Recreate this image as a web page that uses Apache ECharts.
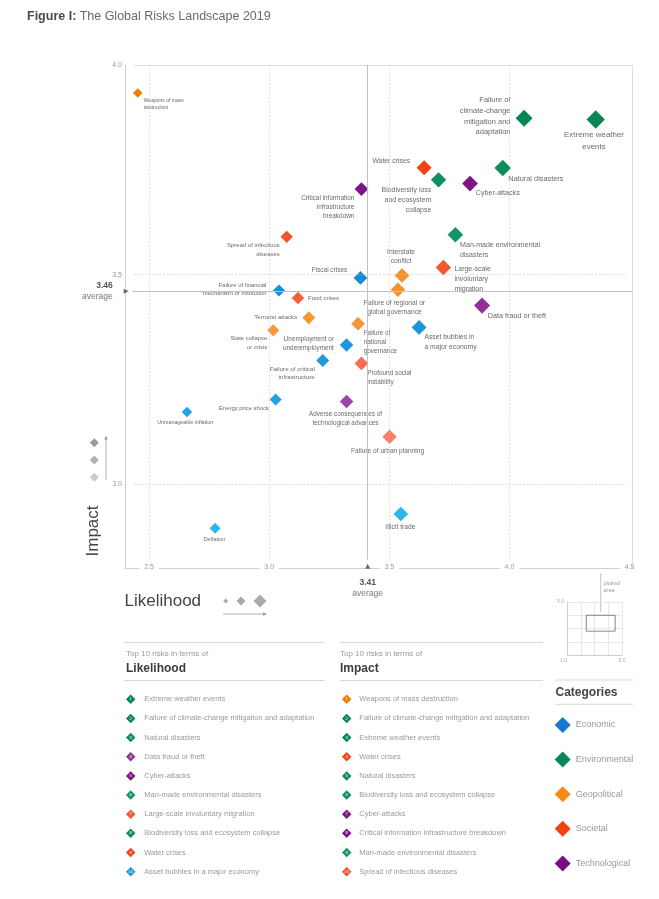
<!DOCTYPE html>
<html><head><meta charset="utf-8">
<script src="https://cdn.jsdelivr.net/npm/echarts@6/dist/echarts.min.js"></script>
<style>html,body{margin:0;padding:0;background:#fff}#c{width:659px;height:899px}</style>
</head><body><div id="c"></div>
<script>
// ---------------- DATA ----------------
const risks = [
  'Weapons of mass destruction','Failure of climate-change mitigation and adaptation','Extreme weather events',
  'Water crises','Biodiversity loss and ecosystem collapse','Natural disasters','Cyber-attacks',
  'Critical information infrastructure breakdown','Man-made environmental disasters','Spread of infectious diseases',
  'Interstate conflict','Large-scale involuntary migration','Fiscal crises','Failure of regional or global governance',
  'Failure of financial mechanism or institution','Food crises','Data fraud or theft','Terrorist attacks',
  'State collapse or crisis','Failure of national governance','Unemployment or underemployment',
  'Asset bubbles in a major economy','Failure of critical infrastructure','Profound social instability',
  'Energy price shock','Adverse consequences of technological advances','Unmanageable inflation',
  'Failure of urban planning','Illicit trade','Deflation'
];
const categoryOf = [
  'Geopolitical','Environmental','Environmental','Societal','Environmental','Environmental','Technological',
  'Technological','Environmental','Societal','Geopolitical','Societal','Economic','Geopolitical',
  'Economic','Societal','Technological','Geopolitical','Geopolitical','Geopolitical','Economic',
  'Economic','Economic','Societal','Economic','Technological','Economic','Societal','Economic','Economic'
];
const likelihood = [2.453,4.061,4.359,3.645,3.705,3.972,3.836,3.384,3.775,3.073,3.553,3.725,3.380,3.536,
  3.041,3.120,3.886,3.165,3.017,3.370,3.322,3.624,3.223,3.384,3.027,3.322,2.658,3.501,3.548,2.775];
const impact = [3.933,3.873,3.870,3.755,3.726,3.754,3.717,3.704,3.595,3.590,3.498,3.517,3.492,3.464,
  3.462,3.444,3.426,3.397,3.367,3.383,3.332,3.374,3.295,3.288,3.202,3.197,3.172,3.113,2.929,2.895];
const chartLabels = [
  'Weapons of mass\ndestruction','Failure of\nclimate-change\nmitigation and\nadaptation','Extreme weather\nevents',
  'Water crises','Biodiversity loss\nand ecosystem\ncollapse','Natural disasters','Cyber-attacks',
  'Critical information\ninfrastructure\nbreakdown','Man-made environmental\ndisasters','Spread of infectious\ndiseases',
  'Interstate\nconflict','Large-scale\ninvoluntary\nmigration','Fiscal crises','Failure of regional or\nglobal governance',
  'Failure of financial\nmechanism or institution','Food crises','Data fraud or theft','Terrorist attacks',
  'State collapse\nor crisis','Failure of\nnational\ngovernance','Unemployment or\nunderemployment',
  'Asset bubbles in\na major economy','Failure of critical\ninfrastructure','Profound social\ninstability',
  'Energy price shock','Adverse consequences of\ntechnological advances','Unmanageable inflation',
  'Failure of urban planning','Illicit trade','Deflation'
];
const categories = ['Economic','Environmental','Geopolitical','Societal','Technological'];
const xTicks = [2.5, 3.0, 3.5, 4.0, 4.5];
const yTicks = [3.0, 3.5, 4.0];
const xRange = [2.4, 4.51];
const yRange = [2.8, 4.0];
const avgLikelihood = 3.41;
const avgImpact = 3.46;
const insetRange = [1, 5];

// ---------------- STYLE ----------------
const catShades = { // [low impact shade, high impact shade]
  Economic: ['#2cb8ee', '#0a6fc4'],
  Environmental: ['#38bc8c', '#068454'],
  Geopolitical: ['#f8b06c', '#f07c00'],
  Societal: ['#fb9086', '#f03600'],
  Technological: ['#ac62b4', '#74047c']
};
const catLegend = {Economic:'#1478cc', Environmental:'#078857', Geopolitical:'#f5891a', Societal:'#f2420e', Technological:'#7a0c82'};
// label offsets from diamond centre [dx, dy, align]
const labelLayout = [
  [6,10.9,'left'],[-13.6,-2,'right'],[-1.7,21.3,'center'],[-14,-6.3,'right'],[-7.3,20,'right'],
  [5.6,11,'left'],[5.7,9,'left'],[-7,18.4,'right'],[4.7,15.3,'left'],[-7,13.2,'right'],
  [-1,-18.7,'center'],[11,12,'left'],[-13.3,-7.3,'right'],[-3.5,18,'center'],[-12.6,-1.3,'right'],
  [10,0,'left'],[5.7,10,'left'],[-11.6,-0.6,'right'],[-6,12.7,'right'],[5.6,18.4,'left'],
  [-12.7,-1.5,'right'],[5.3,14.6,'left'],[-8,12.8,'right'],[5.7,14,'left'],[-6.7,9,'right'],
  [-1,17.2,'center'],[-1.8,10.6,'center'],[-2,14,'center'],[-0.5,13.3,'center'],[-0.6,11.7,'center']
];
const FONT = '"Liberation Sans", Arial, sans-serif';

function hex2rgb(h){h=h.replace('#','');return [0,2,4].map(i=>parseInt(h.substr(i,2),16));}
function shade(cat, imp){
  const [a,b] = catShades[cat].map(hex2rgb);
  let t = (imp - 2.9) / 1.0; t = Math.max(0, Math.min(1, t));
  const c = a.map((v,i)=>Math.round(v + (b[i]-v)*t));
  return 'rgb(' + c.join(',') + ')';
}
const sizeOf = L => 9.5 + (L - 2.45) * 4.6;
const fontOf = L => 5.0 + (L - 2.45) * 1.55;

// ---------------- SERIES ----------------
const series = [];
const dotted = {type:[1.2,2.4], color:'#c4c4c4', width:0.8};
const frame = {type:'solid', color:'#dcdcdc', width:1};
const avgLine = {type:'solid', color:'#c2c2c2', width:1};
const lineData = [];
xTicks.slice(0,4).forEach(v => lineData.push([{coord:[v, 2.82], lineStyle:dotted},{coord:[v, yRange[1]]}]));
yTicks.slice(0,2).forEach(v => lineData.push([{coord:[2.44, v], lineStyle:dotted},{coord:[4.48, v]}]));
lineData.push([{coord:[2.44, yRange[1]], lineStyle:frame},{coord:[xRange[1], yRange[1]]}]);
lineData.push([{coord:[xRange[1], yRange[0]], lineStyle:frame},{coord:[xRange[1], yRange[1]]}]);
lineData.push([{coord:[avgLikelihood, 2.82], lineStyle:avgLine},{coord:[avgLikelihood, yRange[1]]}]);
lineData.push([{coord:[2.43, avgImpact], lineStyle:avgLine},{coord:[xRange[1], avgImpact]}]);
series.push({
  type:'scatter', name:'_lines', xAxisIndex:0, yAxisIndex:0, data:[], z:1, silent:true,
  markLine:{silent:true, symbol:['none','none'], label:{show:false}, data:lineData, animation:false},
  markPoint:{silent:true, data:[
    {coord:[xRange[0]+0.005, avgImpact], symbol:'triangle', symbolSize:[5,5], symbolRotate:-90, itemStyle:{color:'#666', opacity:1},
     label:{show:true, position:'left', distance:11, formatter:'{b|' + avgImpact.toFixed(2) + '}\n{a|average}', align:'right',
       rich:{b:{fontFamily:FONT, fontSize:8.5, fontWeight:'bold', color:'#555', align:'right', lineHeight:11},
             a:{fontFamily:FONT, fontSize:8.5, color:'#777', align:'right', lineHeight:11}}}},
    {coord:[avgLikelihood, yRange[0]+0.004], symbol:'triangle', symbolSize:[5,5], itemStyle:{color:'#666', opacity:1},
     label:{show:true, position:'bottom', distance:8, formatter:'{b|' + avgLikelihood.toFixed(2) + '}\n{a|average}',
       rich:{b:{fontFamily:FONT, fontSize:8.5, fontWeight:'bold', color:'#555', align:'center', lineHeight:11},
             a:{fontFamily:FONT, fontSize:8.5, color:'#777', align:'center', lineHeight:11}}}}
  ]}
});
categories.forEach(cat => {
  const data = [];
  risks.forEach((r, i) => {
    if (categoryOf[i] !== cat) return;
    const f = fontOf(likelihood[i]);
    const lay = labelLayout[i];
    data.push({
      name: r, value:[likelihood[i], impact[i]],
      symbolSize: sizeOf(likelihood[i]),
      itemStyle:{color: shade(cat, impact[i]), opacity:1},
      label:{show:true, position:'inside', formatter: chartLabels[i], offset:[lay[0], lay[1]], align: lay[2],
        verticalAlign:'middle', fontSize:f, lineHeight:f*1.42, color:'#6a6a6a', fontFamily:FONT}
    });
  });
  series.push({type:'scatter', name:cat, xAxisIndex:0, yAxisIndex:0, symbol:'diamond', itemStyle:{opacity:1}, data, z:3});
});

// ranking lists
const topLikelihood = risks.map((r,i)=>i).sort((a,b)=>likelihood[b]-likelihood[a]).slice(0,10);
const topImpact = risks.map((r,i)=>i).sort((a,b)=>impact[b]-impact[a]).slice(0,10);
function rankSeries(list, axisIdx){
  return {type:'scatter', name:'_rank'+axisIdx, xAxisIndex:axisIdx, yAxisIndex:axisIdx, symbol:'diamond', symbolSize:9.5, silent:true,
    itemStyle:{opacity:1},
    data: list.map((i,k)=>({value:[0, risks[i]], itemStyle:{color: shade(categoryOf[i], impact[i]), opacity:1},
      label:{show:true, position:'inside', formatter:String(k+1), color:'#fff', fontSize:4.2, fontFamily:FONT}}))};
}
series.push(rankSeries(topLikelihood, 1));
series.push(rankSeries(topImpact, 2));

// inset "plotted area"
series.push({type:'scatter', name:'_inset', xAxisIndex:3, yAxisIndex:3, symbolSize:0, data:[[insetRange[0], insetRange[0]]], silent:true,
  markArea:{silent:true, itemStyle:{color:'rgba(0,0,0,0)', borderColor:'#666', borderWidth:0.8},
    data:[[{coord:[xRange[0], yRange[0]]},{coord:[4.5, yRange[1]]}]]}});

// ---------------- GRAPHIC ----------------
function diamond(cx, cy, s, color){
  return {type:'polygon', silent:true, shape:{points:[[cx,cy-s/2],[cx+s/2,cy],[cx,cy+s/2],[cx-s/2,cy]]}, style:{fill:color}};
}
function hline(x1, x2, y, color){ return {type:'line', silent:true, shape:{x1, y1:y, x2, y2:y}, style:{stroke:color||'#d8d8d8', lineWidth:1}}; }
function txt(x, y, text, size, color, weight, align){
  return {type:'text', silent:true, x, y, style:{text, fontSize:size, fontFamily:FONT, fill:color, fontWeight:weight||'normal',
    align:align||'left', verticalAlign:'middle'}};
}
const graphic = [
  {type:'text', silent:true, x:27, y:17, style:{text:'{b|Figure I:} {n|The Global Risks Landscape 2019}', verticalAlign:'middle',
    rich:{b:{fontSize:12.5, fontWeight:'bold', fill:'#4a4a4a', fontFamily:FONT}, n:{fontSize:12.5, fill:'#6a6a6a', fontFamily:FONT}}}},
  {type:'text', silent:true, x:93.3, y:531, rotation:Math.PI/2, style:{text:'Impact', fontSize:17, fontFamily:FONT, fill:'#444', align:'center', verticalAlign:'middle'}},
  txt(124.5, 601, 'Likelihood', 17, '#444'),
  diamond(225.7, 601, 5, '#aaa'), diamond(241, 601, 9, '#aaa'), diamond(260, 601, 13, '#aaa'),
  {type:'line', silent:true, shape:{x1:223, y1:614, x2:265, y2:614}, style:{stroke:'#999', lineWidth:0.8}},
  {type:'polygon', silent:true, shape:{points:[[267,614],[263,612.3],[263,615.7]]}, style:{fill:'#999'}},
  diamond(94.3, 442.7, 9, '#9a9a9a'), diamond(94.3, 460, 9, '#b2b2b2'), diamond(94.3, 477.3, 9, '#cccccc'),
  {type:'line', silent:true, shape:{x1:106, y1:480, x2:106, y2:438}, style:{stroke:'#999', lineWidth:0.8}},
  {type:'polygon', silent:true, shape:{points:[[106,435.5],[104.3,439.5],[107.7,439.5]]}, style:{fill:'#999'}},
  hline(124, 325, 642.5), txt(126, 653.5, 'Top 10 risks in terms of', 8, '#999'), txt(126, 668.5, 'Likelihood', 12, '#3c3c3c', 'bold'), hline(124, 325, 680.5),
  hline(340, 543, 642.5), txt(340, 653.5, 'Top 10 risks in terms of', 8, '#999'), txt(340, 668.5, 'Impact', 12, '#3c3c3c', 'bold'), hline(340, 543, 680.5),
  hline(555, 633, 680), txt(555.5, 692.7, 'Categories', 12, '#444', 'bold'), hline(555, 633, 704.3),
  {type:'line', silent:true, shape:{x1:600.7, y1:573, x2:600.7, y2:612}, style:{stroke:'#aaa', lineWidth:0.7}},
  txt(603.5, 583, 'plotted', 5.5, '#999'), txt(603.5, 590.5, 'area', 5.5, '#999')
];

// ---------------- OPTION ----------------
const axisLabelBase = {color:'#9a9a9a', fontSize:7, fontFamily:FONT};
const option = {
  animation:false,
  backgroundColor:'#fff',
  grid:[
    {left:125, right:27, top:65, bottom:331},
    {left:130.7, top:689.7, width:190, height:191.5},
    {left:346.7, top:689.7, width:190, height:191.5},
    {left:567, top:602, width:55, height:53}
  ],
  xAxis:[
    {type:'value', gridIndex:0, min:xRange[0], max:xRange[1], splitLine:{show:false}, axisTick:{show:false},
     axisLine:{show:true, lineStyle:{color:'#d0d0d0', width:1}},
     axisLabel:Object.assign({customValues:xTicks, formatter:v=>v.toFixed(1), margin:-5, backgroundColor:'#fff', padding:[1,5]}, axisLabelBase)},
    {type:'value', gridIndex:1, min:0, max:1, show:false},
    {type:'value', gridIndex:2, min:0, max:1, show:false},
    {type:'value', gridIndex:3, min:insetRange[0], max:insetRange[1], interval:1, axisTick:{show:false},
     axisLine:{lineStyle:{color:'#c8c8c8', width:0.8}}, splitLine:{show:true, lineStyle:{color:'#e2e2e2', width:0.8}},
     axisLabel:{color:'#aaa', fontSize:5, fontFamily:FONT, margin:3, alignMinLabel:'right',
       formatter:v=>(v===insetRange[0]||v===insetRange[1])?v.toFixed(1):''}}
  ],
  yAxis:[
    {type:'value', gridIndex:0, min:yRange[0], max:yRange[1], splitLine:{show:false}, axisTick:{show:false},
     axisLine:{show:true, lineStyle:{color:'#d0d0d0', width:1}},
     axisLabel:Object.assign({customValues:yTicks, formatter:v=>v.toFixed(1), margin:3}, axisLabelBase)},
    {type:'category', gridIndex:1, inverse:true, data:topLikelihood.map(i=>risks[i]), axisLine:{show:false}, axisTick:{show:false},
     axisLabel:{inside:true, margin:13.6, color:'#9a9a9a', fontSize:7.5, fontFamily:FONT}},
    {type:'category', gridIndex:2, inverse:true, data:topImpact.map(i=>risks[i]), axisLine:{show:false}, axisTick:{show:false},
     axisLabel:{inside:true, margin:12.6, color:'#9a9a9a', fontSize:7.5, fontFamily:FONT}},
    {type:'value', gridIndex:3, min:insetRange[0], max:insetRange[1], interval:1, axisTick:{show:false},
     axisLine:{lineStyle:{color:'#c8c8c8', width:0.8}}, splitLine:{show:true, lineStyle:{color:'#e2e2e2', width:0.8}},
     axisLabel:{color:'#aaa', fontSize:5, fontFamily:FONT, margin:3, formatter:v=>(v===insetRange[1])?v.toFixed(1):''}}
  ],
  legend:{orient:'vertical', left:549.7, top:712, padding:5, itemWidth:16, itemHeight:16, itemGap:18.6, icon:'diamond', selectedMode:false,
    textStyle:{color:'#999', fontSize:9, fontFamily:FONT}, itemStyle:{borderWidth:0, opacity:1},
    data:categories.map(c=>({name:c, itemStyle:{color:catLegend[c], opacity:1}}))},
  graphic,
  series
};
const chart = echarts.init(document.getElementById('c'));
chart.setOption(option);
</script>
</body></html>
